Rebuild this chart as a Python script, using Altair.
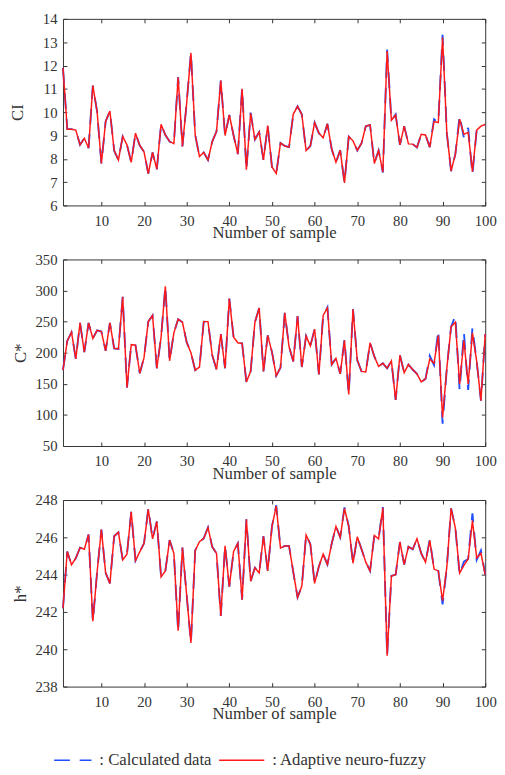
import altair as alt
import pandas as pd

samples = list(range(1, 101))

ci_anfis = [11.9, 9.27, 9.27, 9.23, 8.6, 8.88, 8.46, 11.14, 10.02, 7.8,
            9.6, 10.05, 8.35, 7.95, 8.96, 8.6, 7.85, 9.1, 8.57, 8.3,
            7.37, 8.27, 7.55, 9.48, 9.02, 8.74, 8.65, 11.5, 8.53, 10.4,
            12.54, 9.02, 8.1, 8.27, 7.95, 8.74, 9.18, 11.35, 9.0, 9.88,
            9.0, 8.2, 11.0, 7.53, 9.95, 8.83, 9.15, 7.95, 9.42, 7.65,
            7.37, 8.68, 8.55, 8.5, 9.92, 10.25, 9.9, 8.35, 8.55, 9.55,
            9.1, 8.9, 9.5, 8.42, 7.85, 8.37, 6.97, 8.95, 8.77, 8.36,
            8.67, 9.4, 9.45, 7.8, 8.36, 7.43, 12.62, 9.65, 9.88, 8.6,
            9.4, 8.64, 8.63, 8.49, 9.05, 9.02, 8.5, 9.6, 9.55, 13.2,
            9.1, 7.47, 8.2, 9.7, 9.05, 9.13, 7.45, 9.23, 9.4, 9.47]
ci_calc = [11.9, 9.27, 9.27, 9.23, 8.6, 8.88, 8.46, 11.14, 10.02, 7.8,
           9.6, 10.05, 8.35, 7.95, 8.96, 8.6, 7.85, 9.1, 8.57, 8.3,
           7.37, 8.27, 7.55, 9.48, 9.02, 8.74, 8.65, 11.5, 8.53, 10.4,
           12.54, 9.02, 8.1, 8.27, 7.95, 8.74, 9.18, 11.35, 9.0, 9.88,
           9.0, 8.2, 11.02, 7.53, 9.98, 8.83, 9.15, 7.95, 9.42, 7.65,
           7.37, 8.68, 8.55, 8.5, 9.92, 10.25, 9.9, 8.35, 8.55, 9.55,
           9.1, 8.9, 9.5, 8.42, 7.85, 8.37, 6.97, 8.95, 8.77, 8.36,
           8.67, 9.4, 9.45, 7.8, 8.36, 7.41, 12.68, 9.65, 9.9, 8.6,
           9.4, 8.64, 8.63, 8.49, 9.05, 9.02, 8.5, 9.7, 9.55, 13.32,
           9.1, 7.47, 8.2, 9.85, 8.9, 9.33, 7.33, 9.23, 9.37, 9.47]

cs_anfis = [172, 219, 233, 190, 248, 201, 248, 223, 236, 234,
            203, 248, 207, 206, 290, 144, 213, 212, 167, 192,
            250, 260, 175, 225, 307, 187, 232, 254, 249, 217,
            200, 172, 177, 250, 250, 196, 173, 230, 175, 287,
            225, 216, 215, 153, 170, 249, 272, 170, 228, 201,
            163, 176, 264, 210, 186, 259, 177, 227, 211, 238,
            165, 260, 272, 181, 191, 166, 220, 133, 270, 188,
            170, 169, 216, 194, 178, 183, 175, 187, 124, 196,
            168, 181, 173, 166, 153, 158, 190, 183, 228, 96,
            175, 242, 249, 150, 220, 150, 232, 186, 123, 230]
cs_calc = [172, 219, 233, 190, 248, 201, 248, 223, 236, 234,
           203, 248, 207, 206, 290, 144, 213, 212, 167, 192,
           250, 260, 175, 225, 307, 187, 232, 254, 249, 217,
           200, 172, 177, 250, 250, 196, 173, 230, 175, 287,
           225, 216, 215, 153, 170, 249, 272, 170, 228, 201,
           163, 176, 264, 210, 186, 259, 177, 227, 211, 238,
           165, 260, 273, 181, 191, 166, 221, 133, 270, 188,
           170, 169, 216, 194, 178, 183, 175, 187, 124, 196,
           168, 181, 173, 166, 153, 158, 195, 180, 236, 86,
           175, 242, 259, 140, 233, 140, 240, 186, 123, 230]

h_anfis = [242.2, 245.24, 244.53, 244.88, 245.45, 245.36, 246.15, 241.5, 244.14, 246.41,
           244.1, 243.53, 246.06, 246.27, 244.79, 245.1, 247.37, 244.75, 245.22, 245.68,
           247.5, 245.92, 246.85, 243.88, 244.2, 245.85, 245.14, 241.0, 245.45, 242.9,
           240.34, 245.3, 245.77, 245.94, 246.53, 245.49, 245.14, 241.79, 245.54, 243.36,
           245.24, 245.68, 242.66, 246.97, 243.65, 244.37, 244.09, 246.06, 244.2, 246.59,
           247.67, 245.42, 245.54, 245.54, 244.14, 242.78, 243.39, 246.12, 245.63, 243.53,
           244.44, 245.1, 244.54, 245.66, 246.59, 246.0, 247.55, 246.59, 244.61, 246.03,
           245.36, 244.67, 244.2, 246.1, 245.92, 247.58, 239.66, 243.93, 244.0, 245.75,
           244.54, 245.5, 245.36, 245.92, 245.14, 244.67, 245.84, 244.3, 244.2, 242.6,
           244.4, 247.55, 246.5, 244.09, 244.5, 244.84, 246.9, 244.9, 245.14, 244.0]
h_calc = [242.2, 245.24, 244.53, 244.88, 245.45, 245.36, 246.15, 241.5, 244.14, 246.41,
          244.1, 243.53, 246.06, 246.27, 244.79, 245.1, 247.37, 244.75, 245.22, 245.68,
          247.55, 245.92, 246.85, 243.88, 244.2, 245.85, 245.14, 240.95, 245.45, 242.9,
          240.34, 245.3, 245.77, 245.94, 246.53, 245.49, 245.14, 241.79, 245.54, 243.36,
          245.24, 245.68, 242.66, 246.97, 243.65, 244.37, 244.09, 246.06, 244.2, 246.59,
          247.72, 245.42, 245.54, 245.54, 244.14, 242.78, 243.39, 246.12, 245.63, 243.53,
          244.44, 245.1, 244.54, 245.66, 246.59, 246.0, 247.6, 246.59, 244.61, 246.03,
          245.36, 244.67, 244.2, 246.1, 245.92, 247.62, 239.66, 243.93, 244.0, 245.75,
          244.54, 245.5, 245.36, 245.92, 245.14, 244.67, 245.9, 244.3, 244.2, 242.4,
          244.4, 247.55, 246.5, 244.0, 244.7, 244.84, 247.28, 244.79, 245.3, 244.0]

series_names = [": Calculated data", ": Adaptive neuro-fuzzy"]
CALC_COLOR = "#1f4fff"
ANFIS_COLOR = "#ff1a1a"
CALC_DASH = [16, 10]

x_ticks = [10, 20, 30, 40, 50, 60, 70, 80, 90, 100]

FONT = "Liberation Serif"
TXT = "#333333"
FRAME = "#333333"


def panel(calc, anfis, ytitle, ydomain, yticks, ytitle_pad):
    df = pd.DataFrame({"sample": samples, "calc": calc, "anfis": anfis})
    xs = alt.Scale(domain=[1, 100], nice=False, zero=False)
    ys = alt.Scale(domain=ydomain, nice=False, zero=False)
    common_axis = dict(tickSize=4, offset=-4, domain=False, grid=False,
                       tickColor=FRAME, labelFlush=False)
    x_main = alt.X("sample:Q", scale=xs, axis=alt.Axis(
        orient="bottom", values=x_ticks, title="Number of sample",
        labelFont=FONT, labelFontSize=15, labelColor=TXT, labelPadding=8,
        titleFont=FONT, titleFontSize=17, titleFontWeight="normal",
        titleColor=TXT, titlePadding=-3, **common_axis))
    y_main = alt.Y("calc:Q", scale=ys, axis=alt.Axis(
        orient="left", values=yticks, title=ytitle,
        labelFont=FONT, labelFontSize=15, labelColor=TXT, labelPadding=6,
        titleFont=FONT, titleFontSize=17, titleFontWeight="normal",
        titleColor=TXT, titlePadding=ytitle_pad, **common_axis))
    x_top = alt.X("sample:Q", scale=xs, axis=alt.Axis(
        orient="top", values=x_ticks, title=None, labels=False, **common_axis))
    y_right = alt.Y("anfis:Q", scale=ys, axis=alt.Axis(
        orient="right", values=yticks, title=None, labels=False, **common_axis))

    calc_layer = alt.Chart(df).mark_line(
        strokeWidth=1.9, color=CALC_COLOR, strokeDash=CALC_DASH
    ).encode(x=x_main, y=y_main)
    anfis_layer = alt.Chart(df).mark_line(
        strokeWidth=1.5, color=ANFIS_COLOR
    ).encode(x=x_top, y=y_right)
    return alt.layer(calc_layer, anfis_layer).resolve_axis(
        x="independent", y="independent"
    ).properties(width=430, height=190,
                 view=alt.ViewBackground(stroke=FRAME, strokeWidth=1))


p1 = panel(ci_calc, ci_anfis, "CI", [6, 14], [6, 7, 8, 9, 10, 11, 12, 13, 14], 16)
p2 = panel(cs_calc, cs_anfis, "C*", [50, 350], [50, 100, 150, 200, 250, 300, 350], 6)
p3 = panel(h_calc, h_anfis, "h*", [238, 248], [238, 240, 242, 244, 246, 248], 6)

# legend row
legend_df = pd.DataFrame({"series": series_names})
LEG_Y = 28
leg_calc_line = alt.Chart(legend_df).transform_filter(
    alt.datum.series == series_names[0]
).mark_rule(color=CALC_COLOR, strokeDash=CALC_DASH, strokeWidth=1.6).encode(
    x=alt.value(-9), x2=alt.value(29), y=alt.value(LEG_Y))
leg_calc_text = alt.Chart(legend_df).transform_filter(
    alt.datum.series == series_names[0]
).mark_text(align="left", baseline="middle", font=FONT, fontSize=17,
            color=TXT).encode(
    x=alt.value(37), y=alt.value(LEG_Y), text="series:N")
leg_anfis_line = alt.Chart(legend_df).transform_filter(
    alt.datum.series == series_names[1]
).mark_rule(color=ANFIS_COLOR, strokeWidth=1.6).encode(
    x=alt.value(159), x2=alt.value(205), y=alt.value(LEG_Y))
leg_anfis_text = alt.Chart(legend_df).transform_filter(
    alt.datum.series == series_names[1]
).mark_text(align="left", baseline="middle", font=FONT, fontSize=17,
            color=TXT).encode(
    x=alt.value(213), y=alt.value(LEG_Y), text="series:N")
legend_row = alt.layer(
    leg_calc_line, leg_calc_text, leg_anfis_line, leg_anfis_text
).properties(width=430, height=38,
             view=alt.ViewBackground(stroke="transparent", strokeWidth=0))

chart = alt.vconcat(p1, p2, p3, legend_row, spacing=10).properties(
    padding={"left": 0, "top": -4, "right": 0, "bottom": 0}
).configure_view(stroke="transparent").configure(background="white", font=FONT)

chart.save("out.html", embed_options={"renderer": "svg", "actions": False})
